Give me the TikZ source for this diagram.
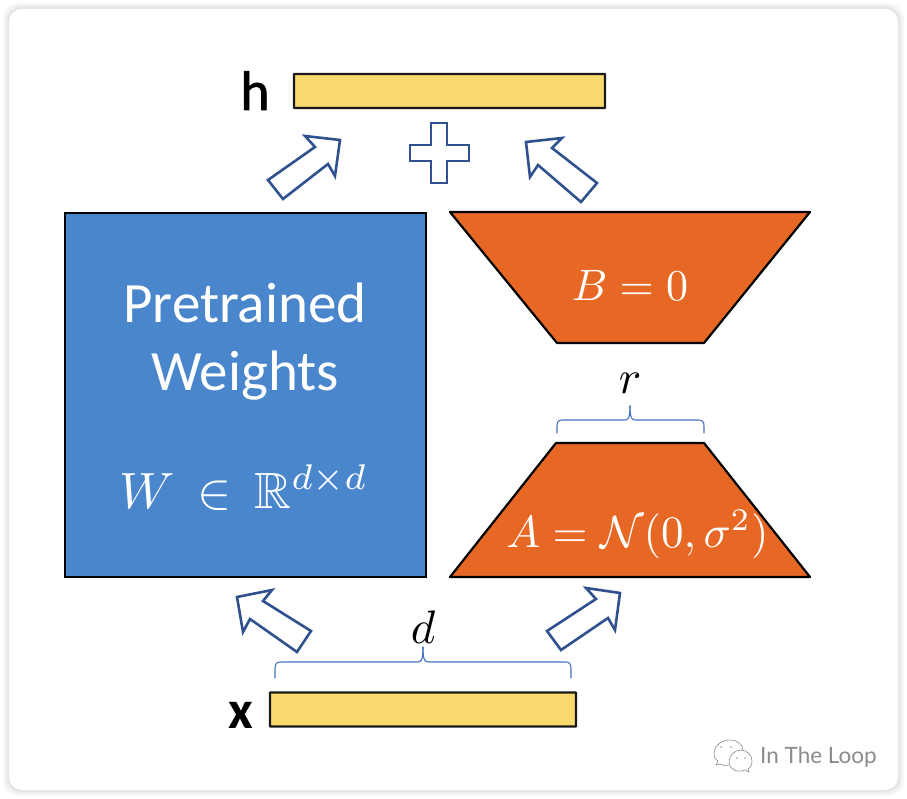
\documentclass[tikz,border=0pt]{standalone}
\usepackage{amsmath,amssymb}
\usepackage{fontspec}
\setmainfont{Carlito}
\newfontfamily\wmfont{Lato}
\newfontfamily\hfont[FakeBold=1.2]{Carlito}
\definecolor{barfill}{HTML}{FAD96E}
\definecolor{bluefill}{HTML}{4A86CB}
\definecolor{orangefill}{HTML}{E76825}
\definecolor{arrowline}{HTML}{2F528F}
\definecolor{braceline}{HTML}{4472C4}
\newcommand{\bigmath}[2]{\scalebox{#1}{$#2$}}
\tikzset{
  x=1pt,y=-1pt,
  bar/.style={draw=black!90,line width=2.2pt,fill=barfill,inner sep=0pt,minimum height=34pt,rounded corners=0.5pt},
  bluebox/.style={draw=black,line width=2.2pt,fill=bluefill},
  trap/.style={draw=black,line width=2.2pt,fill=orangefill,line join=round},
  blockarrow/.style={draw=arrowline,line width=2.6pt,fill=white,line join=miter},
  bracepath/.style={draw=braceline,line width=1.1pt,line cap=round},
  whitetext/.style={text=white,inner sep=0pt,align=center},
  blacktext/.style={text=black,inner sep=0pt},
  wmline/.style={draw=black!45,line width=0.6pt,fill=white}
}
\begin{document}
\begin{tikzpicture}
\useasboundingbox (0,0) rectangle (907,799);
\fill[white] (0,0) rectangle (907,799);
% card with soft shadow
\fill[black!3,rounded corners=16pt] (3,3) rectangle (904,796);
\fill[black!6,rounded corners=15pt] (5,5) rectangle (902,794);
\fill[black!10,rounded corners=14pt] (7,7) rectangle (900,792);
\fill[white,rounded corners=13pt] (9,9) rectangle (898,790);

% bars
\node[bar,minimum width=311pt,anchor=center] (hbar) at (449.5,91) {};
\node[bar,minimum width=306pt,anchor=center] (xbar) at (423,709.5) {};
\node[blacktext,anchor=base,font=\hfont\fontsize{56}{56}\selectfont] (hlabel) at (255,110) {h};
\node[blacktext,anchor=base,font=\fontsize{54}{54}\selectfont\bfseries] (xlabel) at (241,728) {x};

% blue block
\draw[bluebox] (65,213) rectangle (426,577);
\node[whitetext,font=\fontsize{57}{69}\selectfont] (pw) at (245,342) {Pretrained\\[-1pt]Weights};
\node[whitetext,font=\fontsize{10}{12}\selectfont,anchor=base] (wlabel) at (244,508) {\bigmath{5.1}{W\,\in\,\mathbb{R}^{d\times d}}};

% trapezoids
\draw[trap] (450,212) -- (810,212) -- (704,343) -- (557,343) -- cycle;
\draw[trap] (556,443) -- (704,443) -- (810,577) -- (450,577) -- cycle;
\node[whitetext,font=\fontsize{10}{12}\selectfont,anchor=base] (blabel) at (630,301) {\bigmath{4.4}{B=0}};
\node[whitetext,font=\fontsize{10}{12}\selectfont,anchor=base] (alabel) at (637.5,547) {\bigmath{4.5}{A=\mathcal{N}(0,\sigma^2)}};

% block arrows
\draw[blockarrow] (268,180) -- (283,199) -- (328,164) -- (335,176) -- (340,140) -- (305,136) -- (315,147) -- cycle;
\draw[blockarrow] (597,183) -- (581,202) -- (538,165) -- (530,177) -- (526,142) -- (562,138) -- (552,148) -- cycle;
\draw[blockarrow] (311,631) -- (297,652) -- (250,619) -- (243,632) -- (237,597) -- (272,590) -- (263,601) -- cycle;
\draw[blockarrow] (547,631) -- (561,650) -- (608,618) -- (615,630) -- (620,593) -- (586,588) -- (596,599) -- cycle;

% plus
\draw[blockarrow] (431,123) -- (447,123) -- (447,145) -- (469,145) -- (469,161) -- (447,161) -- (447,183) -- (431,183) -- (431,161) -- (410,161) -- (410,145) -- (431,145) -- cycle;

% braces
\draw[bracepath] (275,678) -- (275,669) .. controls (275,663) and (277,662) .. (281,662) -- (417,662) .. controls (421,662) and (423,661) .. (423,647);
\draw[bracepath] (571,678) -- (571,669) .. controls (571,663) and (569,662) .. (565,662) -- (429,662) .. controls (425,662) and (423,661) .. (423,647);
\draw[bracepath] (557,433) -- (557,426) .. controls (557,421) and (559,420) .. (563,420) -- (624,420) .. controls (628,420) and (630,419) .. (630,406);
\draw[bracepath] (704,433) -- (704,426) .. controls (704,421) and (702,420) .. (698,420) -- (636,420) .. controls (632,420) and (630,419) .. (630,406);
\node[blacktext,font=\fontsize{10}{12}\selectfont,anchor=base] (dlabel) at (423,643) {\bigmath{4.7}{d}};
\node[blacktext,font=\fontsize{10}{12}\selectfont,anchor=base] (rlabel) at (630,393) {\bigmath{4.7}{r}};

% watermark
\draw[wmline] (714,754) .. controls (714,745) and (722,740) .. (730,740) .. controls (738,740) and (743,745) .. (743,750) .. controls (743,760) and (735,765) .. (729,765) .. controls (725,766) and (722,765) .. (720,764) -- (716,765) -- (718,761) .. controls (715,759) and (714,757) .. (714,754) -- cycle;
\draw[wmline] (729,762) .. controls (729,755) and (735,750) .. (741,750) .. controls (747,750) and (752,755) .. (752,761) .. controls (752,765) and (750,768) .. (748,769) -- (749,772) -- (745,770) .. controls (738,773) and (729,770) .. (729,762) -- cycle;
\fill[black!40] (721,747) circle (0.8pt) (731,747) circle (0.8pt) (737,758) circle (0.8pt) (745,758) circle (0.8pt);
\node[text=black!45,inner sep=0pt,font=\wmfont\fontsize{22.5}{22.5}\selectfont,anchor=west] (wm) at (760,757) {In The Loop};
\end{tikzpicture}
\end{document}
